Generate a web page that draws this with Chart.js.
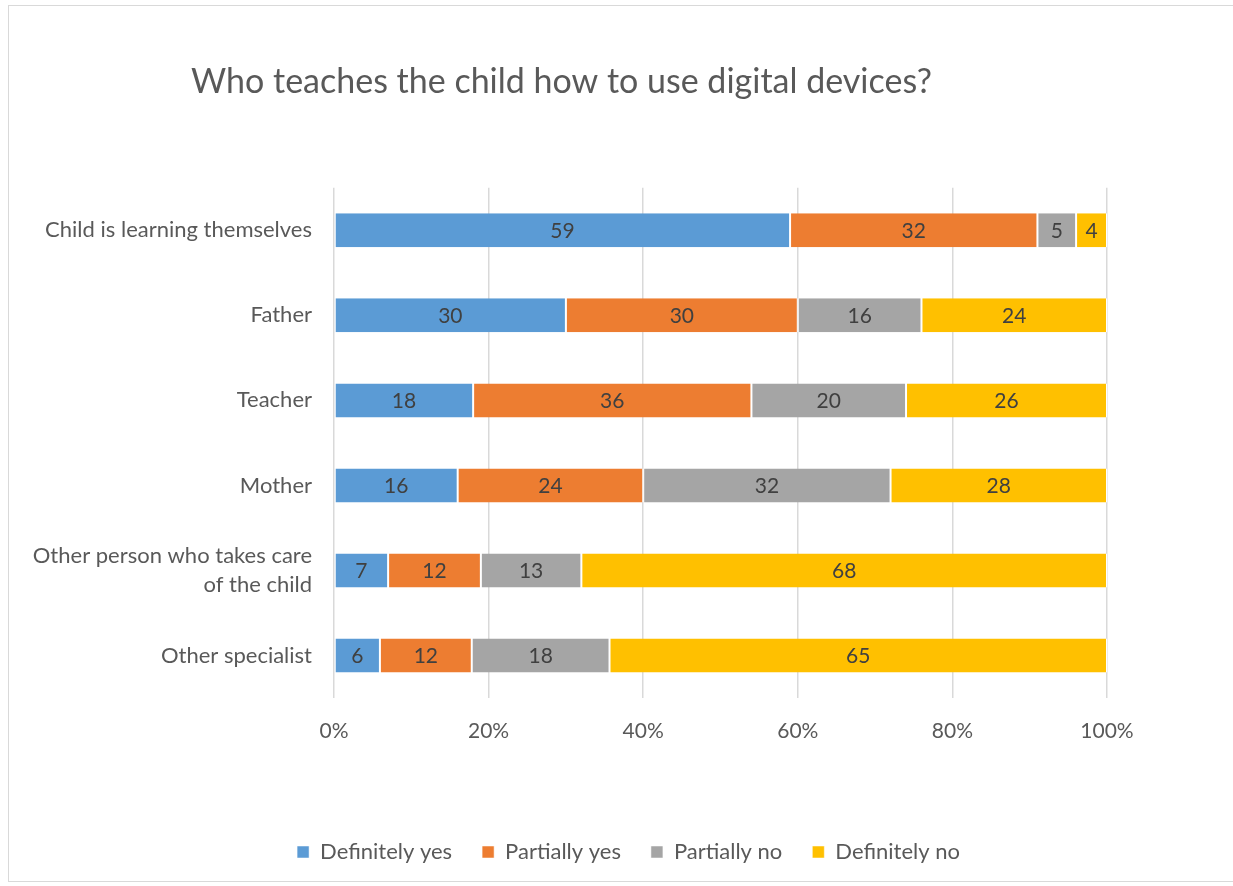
<!DOCTYPE html>
<html>
<head>
<meta charset="utf-8">
<script src="https://cdn.jsdelivr.net/npm/chart.js@4"></script>
<style>
  html, body { margin: 0; padding: 0; background: #fff; }
  #wrap { position: relative; width: 1233px; height: 886px; }
  #frame { position: absolute; left: 8px; top: 5px; width: 1240px; height: 875px; border: 1px solid #d9d9d9; }
  canvas { position: absolute; left: 0; top: 0; }
</style>
</head>
<body>
<div id="wrap">
  <div id="frame"></div>
  <canvas id="teachchart" width="1233" height="886"></canvas>
</div>
<script>
// who teaches the child to use digital devices, answers per row
const people = ["Child is learning themselves", "Father", "Teacher", "Mother",
    ["Other person who takes care", "of the child"], "Other specialist"];
const defYes = [59, 30, 18, 16, 7, 6];
const partYes = [32, 30, 36, 24, 12, 12];
const partNo = [5, 16, 20, 32, 13, 18];
const defNo = [4, 24, 26, 28, 68, 65];
const xTicks = ["0%", "20%", "40%", "60%", "80%", "100%"];

// bars are 100% stacked, so scale every row to its own total
const totals = defYes.map((v, i) => v + partYes[i] + partNo[i] + defNo[i]);
const share = arr => arr.map((v, i) => v / totals[i] * 100);

const font = "Lato";

function series(label, values, colour) {
    return {
        label: label,
        data: share(values),
        raw: values,
        backgroundColor: colour,
        borderColor: "#ffffff",
        borderWidth: { left: 1, right: 1 },
        borderSkipped: false,
        barPercentage: 0.4,
        categoryPercentage: 1
    };
}

// numbers written in the middle of each segment
const segmentLabels = {
    id: "segmentLabels",
    afterDatasetsDraw(chart) {
        const ctx = chart.ctx;
        ctx.save();
        ctx.font = "21px " + font;
        ctx.fillStyle = "#404040";
        ctx.textAlign = "center";
        ctx.textBaseline = "middle";
        chart.data.datasets.forEach((ds, d) => {
            chart.getDatasetMeta(d).data.forEach((bar, i) => {
                const c = bar.getCenterPoint();
                ctx.fillText(String(ds.raw[i]), c.x, c.y + 1);
            });
        });
        ctx.restore();
    }
};

// legend sits a bit right of the title's centre
const legendShift = {
    id: "legendShift",
    afterLayout(chart) {
        chart.legend.left += 67;
        chart.legend.right += 67;
    }
};

new Chart("teachchart", {
    type: "bar",
    data: {
        labels: people,
        datasets: [
            series("Definitely yes", defYes, "#5B9BD5"),
            series("Partially yes", partYes, "#ED7D31"),
            series("Partially no", partNo, "#A5A5A5"),
            series("Definitely no", defNo, "#FFC000")
        ]
    },
    options: {
        indexAxis: "y",
        responsive: false,
        animation: false,
        layout: { padding: { left: 16, right: 126, top: 0, bottom: 13 } },
        scales: {
            x: {
                stacked: true,
                min: 0,
                max: 100,
                grid: { color: "#d9d9d9", lineWidth: 1.5, drawTicks: false },
                border: { display: false },
                ticks: {
                    stepSize: 20,
                    padding: 21,
                    color: "#595959",
                    font: { family: font, size: 21 },
                    callback: (v, i) => xTicks[i]
                },
                afterFit: scale => { scale.height = 113; }
            },
            y: {
                stacked: true,
                grid: { display: false, drawTicks: false },
                border: { display: false },
                ticks: {
                    padding: 22,
                    color: "#595959",
                    font: { family: font, size: 22, lineHeight: 1.35 }
                },
                afterFit: scale => { scale.width = 318; }
            }
        },
        plugins: {
            title: {
                display: true,
                text: "Who teaches the child how to use digital devices?",
                color: "#595959",
                font: { family: font, size: 34, weight: "normal" },
                padding: { top: 62, bottom: 85 }
            },
            legend: {
                position: "bottom",
                labels: {
                    color: "#595959",
                    font: { family: font, size: 22 },
                    boxWidth: 12,
                    boxHeight: 12,
                    padding: 30
                }
            },
            tooltip: { enabled: false }
        }
    },
    plugins: [segmentLabels, legendShift]
});
</script>
</body>
</html>
